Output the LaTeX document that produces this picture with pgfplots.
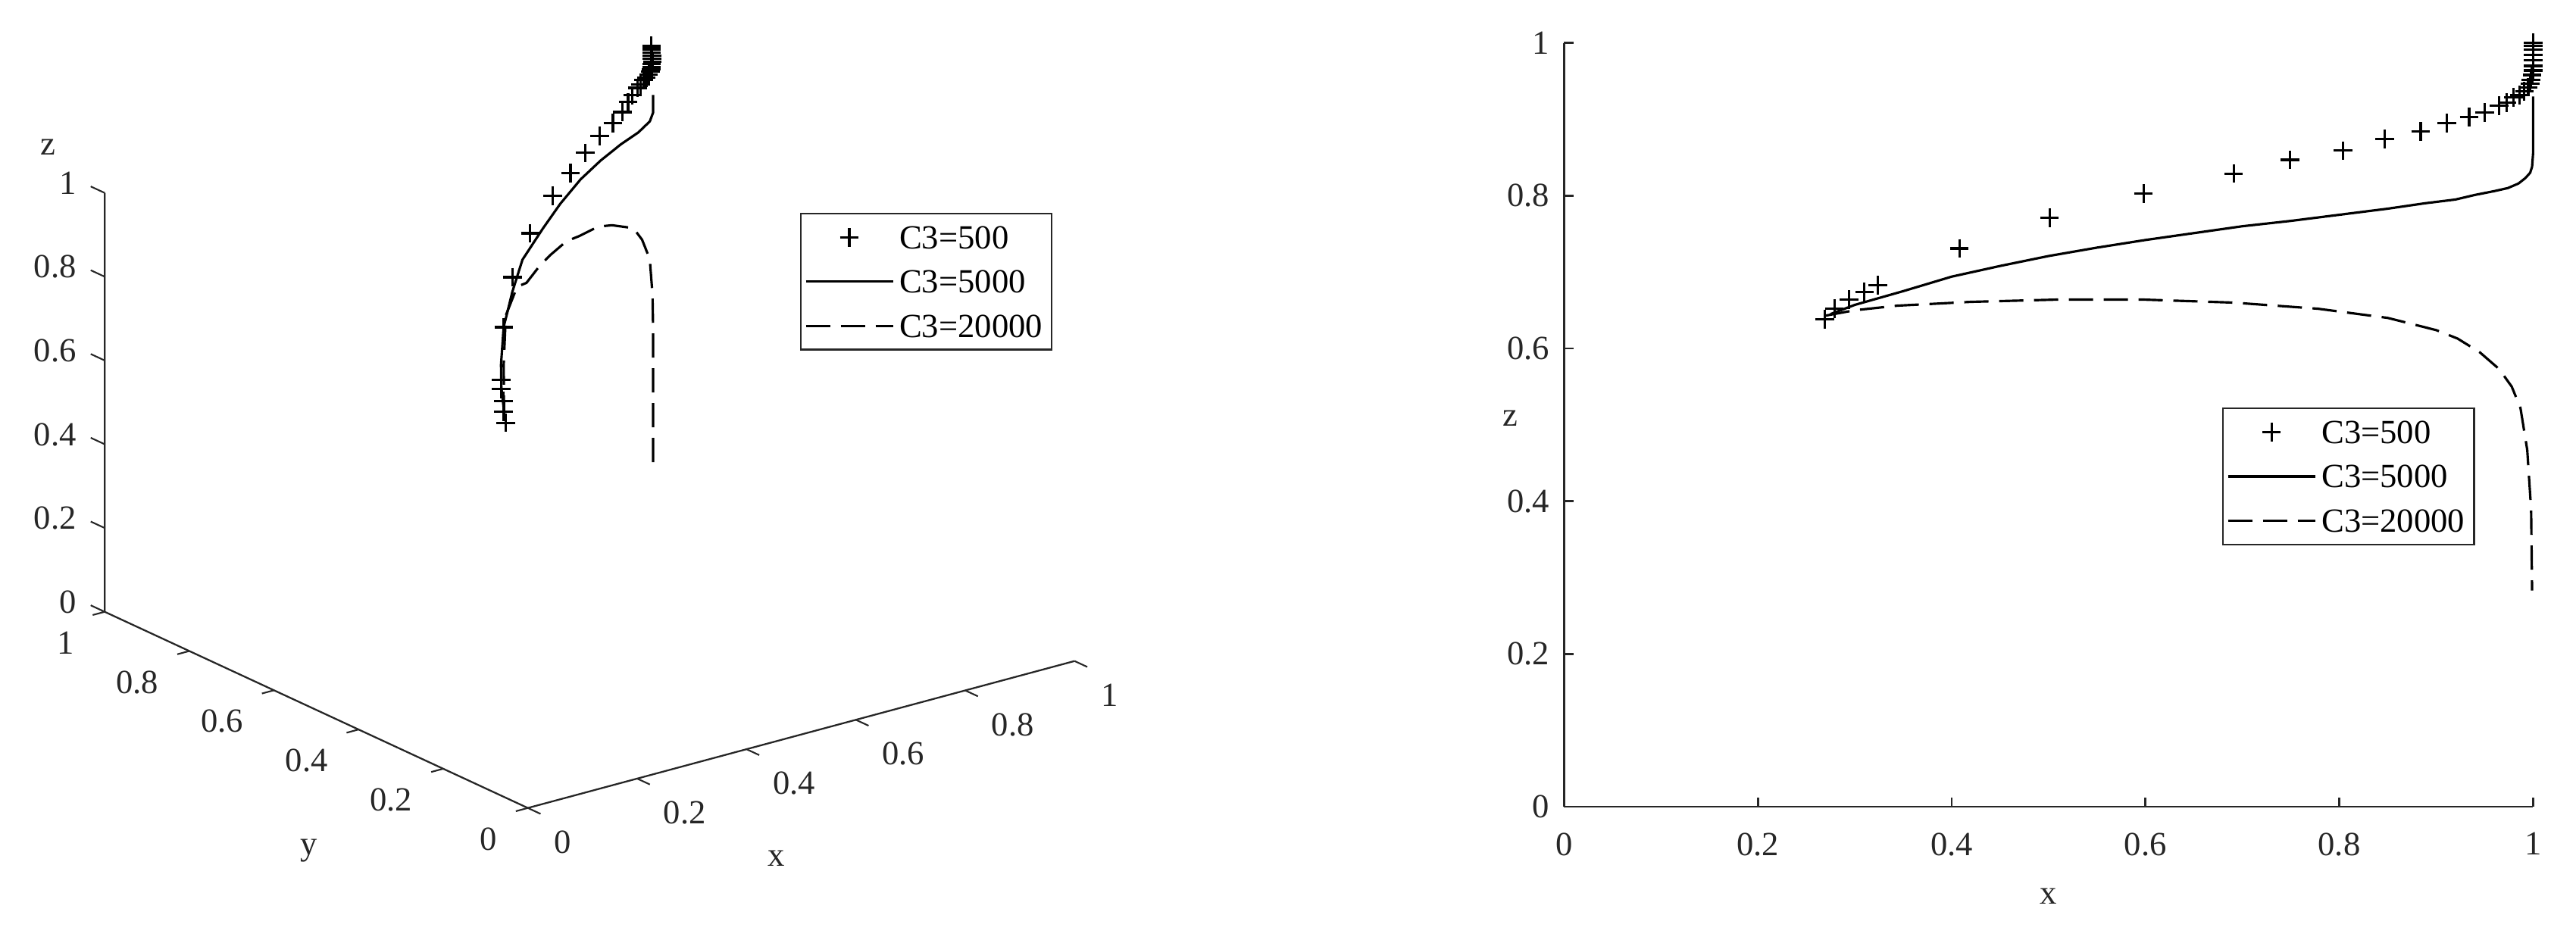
\documentclass[border=0pt]{standalone}
\usepackage{fontspec}
\setmainfont{Liberation Serif}
\usepackage{pgfplots}
\pgfplotsset{compat=1.18}
\definecolor{axgray}{RGB}{38,38,38}
\pgfplotsset{
  marklegend/.style={legend image code/.code={\draw[mark repeat=2,mark phase=2,##1] plot coordinates {(0cm,0cm) (0.575cm,0cm) (1.15cm,0cm)};}},
  linelegend/.style={legend image code/.code={\draw[##1] (0cm,0cm) -- (1.15cm,0cm);}},
  mylegend/.style={legend cell align=left,
    legend style={draw=axgray, line width=0.6pt, fill=white, inner xsep=1.5pt, inner ysep=2.65pt,
      row sep=4.2pt, nodes={inner sep=2pt, text depth=0pt, text=black},
      font=\fontsize{12.7}{15.2}\selectfont}},
  s500/.style={only marks, mark=+, mark size=3.5pt, line width=0.9pt, black, marklegend},
  s5000/.style={no markers, line width=0.9pt, black, solid, linelegend},
  s20000/.style={no markers, line width=0.9pt, black, dash pattern=on 0.32cm off 0.14cm, linelegend},
}
\begin{document}
\begin{tikzpicture}[font=\fontsize{12.7}{15.2}\selectfont]
\path[use as bounding box] (0,0) rectangle (34cm,12.4cm);

% ---------------- left: 3D view ----------------
\begin{axis}[
  at={(6.967cm,1.733cm)}, anchor=origin,
  x={(7.216cm,1.94cm)}, y={(-5.585cm,2.59cm)}, z={(0cm,5.53cm)},
  xmin=0,xmax=1,ymin=0,ymax=1,zmin=0,zmax=1,
  hide axis, clip=false,
  unbounded coords=jump,
  mylegend,
  legend style={at={(axis cs:0.4974,0,1.2461)}, anchor=north west},
]
\addplot3[s500] coordinates {
(0.269,0.400,0.638) (0.279,0.418,0.652) (0.294,0.437,0.664) (0.310,0.464,0.674)
(0.324,0.482,0.683) (0.408,0.584,0.731) (0.501,0.684,0.771) (0.598,0.767,0.803)
(0.691,0.834,0.829) (0.749,0.867,0.847) (0.804,0.903,0.859) (0.847,0.925,0.874)
(0.884,0.941,0.884) (0.911,0.954,0.895) (0.934,0.970,0.903) (0.950,0.980,0.909)
(0.965,0.988,0.918) (0.973,0.991,0.922) (0.980,0.993,0.929) (0.986,0.994,0.932)
(0.991,0.995,0.937) (0.995,0.996,0.942) (0.997,0.997,0.947) (0.998,0.997,0.952)
(0.999,0.998,0.958) (1,0.998,0.964) (1,0.999,0.970) (1,0.999,0.977)
(1,1,0.984) (1,1,0.991) (1,1,0.996) (1,1,1.0)
};
\addplot3[s5000] coordinates {
(0.275,0.410,0.645) (0.323,0.480,0.666) (0.365,0.535,0.680) (0.438,0.623,0.704)
(0.458,0.643,0.710) (0.515,0.702,0.723) (0.590,0.775,0.739) (0.675,0.837,0.754)
(0.745,0.886,0.766) (0.817,0.931,0.778) (0.877,0.961,0.788) (0.930,0.982,0.798)
(0.970,0.992,0.808) (0.994,0.996,0.824) (1.000,0.996,0.843) (1.000,0.996,0.885)
};
\addplot3[s20000] coordinates {
(0.270,0.405,0.643) (0.390,0.561,0.659) (0.510,0.711,0.664) (0.595,0.794,0.664)
(0.615,0.798,0.664) (0.672,0.842,0.662) (0.718,0.875,0.658) (0.778,0.914,0.652)
(0.810,0.925,0.648) (0.870,0.958,0.634) (0.900,0.964,0.624) (0.950,0.978,0.593)
(0.976,0.991,0.550) (0.990,0.991,0.499) (0.995,0.991,0.413) (1.000,0.996,0.325)
(1.000,0.996,0.000)
};
\legend{C3=500,C3=5000,C3=20000}
% axis lines
\addplot3[forget plot, axgray, line width=0.65pt] coordinates {(1,0,0) (0,0,0) (0,1,0) (0,1,1)};
% ticks
\addplot3[forget plot, axgray, line width=0.6pt] coordinates {
(0,0,0) (0,-0.03,0) (nan,nan,nan) (0.2,0,0) (0.2,-0.03,0) (nan,nan,nan)
(0.4,0,0) (0.4,-0.03,0) (nan,nan,nan) (0.6,0,0) (0.6,-0.03,0) (nan,nan,nan)
(0.8,0,0) (0.8,-0.03,0) (nan,nan,nan) (1,0,0) (1,-0.03,0) (nan,nan,nan)
(0,0,0) (-0.022,0,0) (nan,nan,nan) (0,0.2,0) (-0.022,0.2,0) (nan,nan,nan)
(0,0.4,0) (-0.022,0.4,0) (nan,nan,nan) (0,0.6,0) (-0.022,0.6,0) (nan,nan,nan)
(0,0.8,0) (-0.022,0.8,0) (nan,nan,nan) (0,1,0) (-0.022,1,0) (nan,nan,nan)
(0,1,0) (0,1.033,0) (nan,nan,nan) (0,1,0.2) (0,1.033,0.2) (nan,nan,nan)
(0,1,0.4) (0,1.033,0.4) (nan,nan,nan) (0,1,0.6) (0,1.033,0.6) (nan,nan,nan)
(0,1,0.8) (0,1.033,0.8) (nan,nan,nan) (0,1,1) (0,1.033,1)
};
% tick labels
\addplot3[forget plot, draw=none, no markers, nodes near coords, point meta=explicit symbolic,
  every node near coord/.style={anchor=west, inner sep=0pt, xshift=0.34cm, yshift=-0.45cm, text=axgray}]
  coordinates {(0,0,0) [0] (0.2,0,0) [0.2] (0.4,0,0) [0.4] (0.6,0,0) [0.6] (0.8,0,0) [0.8] (1,0,0) [1]};
\addplot3[forget plot, draw=none, no markers, nodes near coords, point meta=explicit symbolic,
  every node near coord/.style={anchor=east, inner sep=0pt, xshift=-0.40cm, yshift=-0.41cm, text=axgray}]
  coordinates {(0,0,0) [0] (0,0.2,0) [0.2] (0,0.4,0) [0.4] (0,0.6,0) [0.6] (0,0.8,0) [0.8] (0,1,0) [1]};
\addplot3[forget plot, draw=none, no markers, nodes near coords, point meta=explicit symbolic,
  every node near coord/.style={anchor=east, inner sep=0pt, xshift=-0.37cm, yshift=0.13cm, text=axgray}]
  coordinates {(0,1,0) [0] (0,1,0.2) [0.2] (0,1,0.4) [0.4] (0,1,0.6) [0.6] (0,1,0.8) [0.8] (0,1,1) [1]};
% axis labels
\addplot3[forget plot, draw=none, no markers, nodes near coords, point meta=explicit symbolic,
  every node near coord/.style={anchor=center, inner sep=0pt, text=axgray}]
  coordinates {(0.1626,-0.3779,0) [x] (-0.3612,0.0516,0) [y] (0,1.1333,1.0474) [z]};
\end{axis}

% ---------------- right: x-z view ----------------
\begin{axis}[
  at={(20.643cm,1.75cm)}, anchor=origin,
  x=12.79cm, y=10.083cm,
  xmin=0,xmax=1,ymin=0,ymax=1,
  axis x line*=bottom, axis y line*=left,
  axis line style={line width=0.8pt, axgray},
  tick align=inside, major tick length=0.123cm,
  tick style={line width=0.8pt, axgray},
  xtick={0,0.2,0.4,0.6,0.8,1}, ytick={0,0.2,0.4,0.6,0.8,1},
  /pgf/number format/assume math mode=true,
  xticklabel style={yshift=-0.22cm, text=axgray},
  yticklabel style={xshift=-0.068cm, text=axgray},
  xlabel={x}, ylabel={z},
  xlabel style={at={(axis description cs:0.5,-0.1177)}, anchor=center, text=axgray},
  every axis y label/.style={at={(axis description cs:-0.0554,0.509)}, anchor=center, text=axgray},
  clip=false,
  mylegend,
  legend style={at={(axis description cs:0.679,0.5224)}, anchor=north west},
]
\addplot[s500] coordinates {
(0.269,0.638) (0.279,0.652) (0.294,0.664) (0.310,0.674) (0.324,0.683) (0.408,0.731)
(0.501,0.771) (0.598,0.803) (0.691,0.829) (0.749,0.847) (0.804,0.859) (0.847,0.874)
(0.884,0.884) (0.911,0.895) (0.934,0.903) (0.950,0.909) (0.965,0.918) (0.973,0.922)
(0.980,0.929) (0.986,0.932) (0.991,0.937) (0.995,0.942) (0.997,0.947) (0.998,0.952)
(0.999,0.958) (1,0.964) (1,0.970) (1,0.977) (1,0.984) (1,0.991) (1,0.996) (1,1.0)
};
\addplot[s5000] coordinates {
(0.275,0.645) (0.30,0.657) (0.35,0.675) (0.40,0.694) (0.45,0.708) (0.50,0.721)
(0.55,0.732) (0.60,0.742) (0.65,0.751) (0.70,0.760) (0.75,0.767) (0.80,0.775)
(0.85,0.783) (0.888,0.790) (0.92,0.795) (0.94,0.801) (0.96,0.806) (0.974,0.810)
(0.985,0.816) (0.992,0.823) (0.997,0.830) (0.999,0.838) (1.0,0.855) (1.0,0.93)
};
\addplot[s20000] coordinates {
(0.270,0.643) (0.30,0.650) (0.344,0.656) (0.42,0.661) (0.51,0.664) (0.597,0.664)
(0.691,0.660) (0.778,0.652) (0.85,0.640) (0.90,0.624) (0.922,0.613) (0.945,0.595)
(0.965,0.573) (0.978,0.550) (0.987,0.522) (0.994,0.467) (0.998,0.389) (0.999,0.283)
};
\legend{C3=500,C3=5000,C3=20000}
\end{axis}
\end{tikzpicture}
\end{document}
